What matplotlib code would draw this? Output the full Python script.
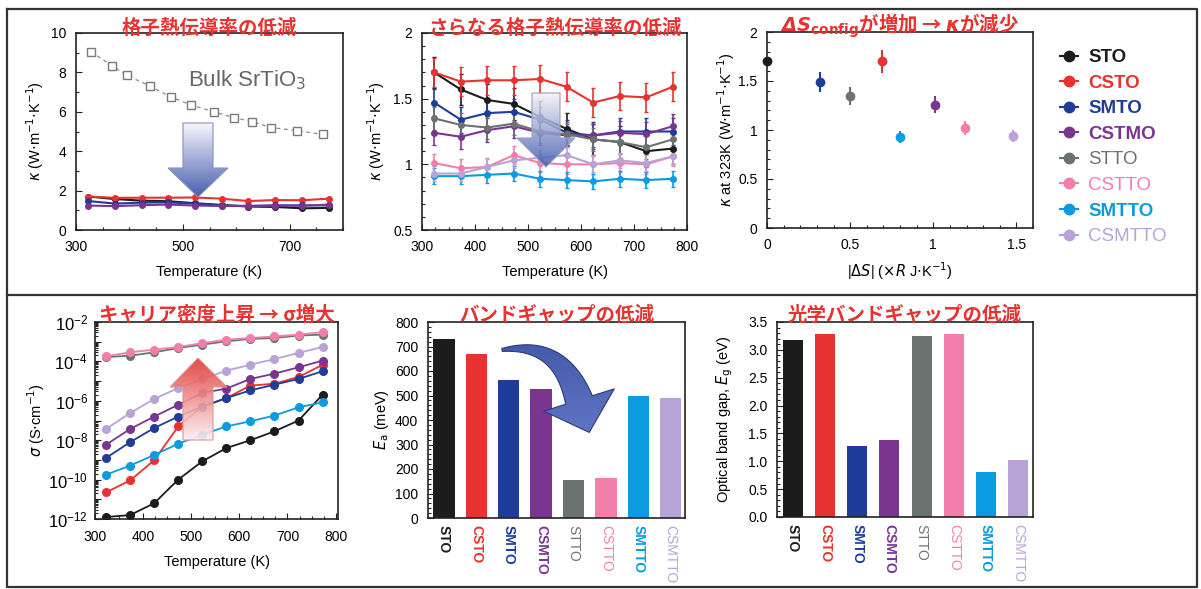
import numpy as np
import matplotlib
matplotlib.use('Agg')
import matplotlib.pyplot as plt
from matplotlib.patches import Polygon
from matplotlib.colors import LinearSegmentedColormap
from matplotlib.lines import Line2D
from matplotlib.ticker import MultipleLocator, FixedLocator, FuncFormatter, LogLocator, NullFormatter

plt.rcParams['font.family'] = ['Liberation Sans', 'DejaVu Sans']
plt.rcParams['mathtext.fontset'] = 'dejavusans'

W, H = 1201, 589
JP = ['Noto Sans CJK JP', 'DejaVu Sans']
RED = '#e8322f'

# --- データ ---
names = ['STO', 'CSTO', 'SMTO', 'CSTMO', 'STTO', 'CSTTO', 'SMTTO', 'CSMTTO']
bar_names = ['STO', 'CSTO', 'SMTO', 'CSMTO', 'STTO', 'CSTTO', 'SMTTO', 'CSMTTO']
colors = ['#1c1c1c', '#e8322f', '#1f3c99', '#7b3590', '#6b7370', '#f27fab', '#0a9be0', '#b7a3d8']
bold = [True, True, True, True, False, False, True, False]

temps = [323, 373, 423, 473, 523, 573, 623, 673, 723, 773]

bulk_T = [328, 367, 395, 439, 478, 515, 558, 596, 630, 665, 714, 762]
bulk_kappa = [9.05, 8.35, 7.85, 7.3, 6.75, 6.35, 6.0, 5.7, 5.5, 5.2, 5.05, 4.85]

kappa_sto = [1.70, 1.57, 1.49, 1.46, 1.36, 1.27, 1.19, 1.17, 1.10, 1.12]
kappa_csto = [1.70, 1.63, 1.64, 1.64, 1.65, 1.59, 1.47, 1.52, 1.51, 1.59]
kappa_smto = [1.47, 1.34, 1.39, 1.40, 1.34, 1.24, 1.22, 1.25, 1.25, 1.25]
kappa_cstmo = [1.24, 1.21, 1.26, 1.29, 1.24, 1.22, 1.22, 1.24, 1.23, 1.29]
kappa_stto = [1.35, 1.30, 1.28, 1.31, 1.25, 1.23, 1.19, 1.17, 1.13, 1.19]
kappa_cstto = [1.01, 0.97, 0.98, 1.07, 1.01, 1.00, 1.00, 1.01, 1.00, 1.06]
kappa_smtto = [0.91, 0.91, 0.92, 0.93, 0.89, 0.88, 0.87, 0.89, 0.88, 0.89]
kappa_csmtto = [0.93, 0.93, 0.98, 1.03, 1.05, 1.07, 1.00, 1.03, 1.01, 1.06]
kappa_err = [0.12, 0.11, 0.10, 0.09, 0.09, 0.07, 0.06, 0.06]

delta_s = [0.0, 0.69, 0.32, 1.01, 0.50, 1.19, 0.80, 1.48]
kappa_323 = [1.70, 1.70, 1.49, 1.26, 1.35, 1.02, 0.93, 0.94]
kappa_323_err = [0.0, 0.12, 0.10, 0.09, 0.09, 0.07, 0.06, 0.06]

logsig_sto = [-11.9, -11.8, -11.2, -10.0, -9.07, -8.40, -8.0, -7.55, -7.0, -5.69]
logsig_csto = [-10.65, -10.04, -9.02, -7.3, -6.3, -5.86, -5.23, -5.13, -4.79, -4.17]
logsig_smto = [-8.9, -8.1, -7.38, -6.8, -6.3, -5.86, -5.47, -5.18, -4.89, -4.5]
logsig_cstmo = [-8.23, -7.43, -6.8, -6.2, -5.6, -5.38, -4.89, -4.62, -4.3, -3.96]
logsig_stto = [-3.78, -3.71, -3.54, -3.32, -3.15, -2.98, -2.86, -2.81, -2.69, -2.64]
logsig_cstto = [-3.74, -3.54, -3.40, -3.27, -3.07, -2.90, -2.81, -2.73, -2.64, -2.52]
logsig_smtto = [-9.75, -9.29, -8.75, -8.18, -7.72, -7.3, -7.04, -6.75, -6.33, -6.08]
logsig_csmtto = [-7.43, -6.62, -5.91, -5.35, -4.9, -4.47, -4.17, -3.88, -3.57, -3.27]

ea_mev = [730, 670, 563, 528, 156, 162, 497, 490]
eg_ev = [3.17, 3.29, 1.28, 1.39, 3.25, 3.29, 0.81, 1.02]

kappa_all = [kappa_sto, kappa_csto, kappa_smto, kappa_cstmo,
             kappa_stto, kappa_cstto, kappa_smtto, kappa_csmtto]
logsig_all = [logsig_sto, logsig_csto, logsig_smto, logsig_cstmo,
              logsig_stto, logsig_cstto, logsig_smtto, logsig_csmtto]


def rect(l, t, r, b):
    return [l / W, 1 - b / H, (r - l) / W, (b - t) / H]


def style(ax):
    for s in ax.spines.values():
        s.set_linewidth(1.2)
        s.set_color('#222222')
    ax.tick_params(which='both', direction='in', labelsize=10, width=0.8, color='#222222', pad=7)
    ax.tick_params(which='major', length=4)
    ax.tick_params(which='minor', length=2)


def title(ax, txt, dy):
    ax.text(0.5, 1 + dy, txt, transform=ax.transAxes, ha='center', va='center',
            color=RED, fontsize=14, fontweight='bold', family=JP, zorder=20)


fig = plt.figure(figsize=(W / 100, H / 100), dpi=100)
fig.patch.set_facecolor('white')

g = FuncFormatter(lambda v, p: '%g' % v)
kappa_label = r'$\kappa$ (W$\cdot$m$^{-1}$$\cdot$K$^{-1}$)'

# --- 1: 格子熱伝導率 ---
ax1 = fig.add_axes(rect(76, 33, 343, 230))
ax1.plot(bulk_T, bulk_kappa, ls=(0, (3, 3)), color='#8a8a8a', lw=0.9,
         marker='s', mfc='white', mec='#7a7a7a', ms=5.5)
for i in range(4):
    ax1.plot(temps, kappa_all[i], '-o', color=colors[i], ms=4, lw=1.5)
ax1.set_xlim(300, 800)
ax1.set_ylim(0, 10)
ax1.set_xticks([300, 500, 700])
ax1.xaxis.set_minor_locator(MultipleLocator(50))
ax1.yaxis.set_minor_locator(MultipleLocator(1))
ax1.text(0.64, 0.76, 'Bulk SrTiO$_3$', transform=ax1.transAxes, ha='center', va='center',
         fontsize=16, color='#666666')
ax1.set_xlabel('Temperature (K)', fontsize=10.5)
ax1.set_ylabel(kappa_label, fontsize=10.5)
ax1.yaxis.set_label_coords(-0.113, 0.5)
ax1.xaxis.set_label_coords(0.5, -0.178)
style(ax1)
title(ax1, '格子熱伝導率の低減', 0.025)

# --- 2: さらなる低減 ---
ax2 = fig.add_axes(rect(422, 33, 687, 230))
for i in range(8):
    ax2.errorbar(temps, kappa_all[i], yerr=kappa_err[i], fmt='-o', color=colors[i],
                 ms=4, lw=1.5, elinewidth=1.2, capsize=1.5, zorder=3 + (i == 1))
ax2.set_xlim(300, 800)
ax2.set_ylim(0.5, 2)
ax2.xaxis.set_major_locator(MultipleLocator(100))
ax2.xaxis.set_minor_locator(MultipleLocator(25))
ax2.yaxis.set_major_locator(MultipleLocator(0.5))
ax2.yaxis.set_minor_locator(MultipleLocator(0.1))
ax2.yaxis.set_major_formatter(g)
ax2.set_xlabel('Temperature (K)', fontsize=10.5)
ax2.set_ylabel(kappa_label, fontsize=10.5)
ax2.yaxis.set_label_coords(-0.132, 0.5)
ax2.xaxis.set_label_coords(0.5, -0.178)
style(ax2)
title(ax2, 'さらなる格子熱伝導率の低減', 0.025)

# --- 3: ΔS vs κ ---
ax3 = fig.add_axes(rect(767, 32, 1033, 228))
for i in range(8):
    ax3.errorbar(delta_s[i], kappa_323[i], yerr=kappa_323_err[i], fmt='o', color=colors[i],
                 ms=6, elinewidth=1.5, capsize=0, clip_on=False, zorder=4)
ax3.set_xlim(0, 1.6)
ax3.set_ylim(0, 2)
ax3.xaxis.set_major_locator(MultipleLocator(0.5))
ax3.xaxis.set_minor_locator(MultipleLocator(0.1))
ax3.yaxis.set_major_locator(MultipleLocator(0.5))
ax3.yaxis.set_minor_locator(MultipleLocator(0.1))
ax3.xaxis.set_major_formatter(g)
ax3.yaxis.set_major_formatter(g)
ax3.set_xlabel(r'|$\mathit{\Delta S}$| ($\times\mathit{R}$ J$\cdot$K$^{-1}$)', fontsize=10.5)
ax3.set_ylabel(r'$\kappa$ at 323K (W$\cdot$m$^{-1}$$\cdot$K$^{-1}$)', fontsize=10.5)
ax3.yaxis.set_label_coords(-0.113, 0.5)
ax3.xaxis.set_label_coords(0.5, -0.163)
style(ax3)
title(ax3, r'$\mathbfit{\Delta S}_{\mathbf{config}}$が増加 → $\mathbfit{\kappa}$が減少', 0.03)

handles = [Line2D([], [], color=c, marker='o', ms=7.5, lw=1.5) for c in colors]
leg = ax3.legend(handles, names, loc='upper left', bbox_to_anchor=(1060 / W, 1 - 49 / H),
                 bbox_transform=fig.transFigure, frameon=False, fontsize=13.5,
                 handlelength=0.95, handletextpad=0.55, labelspacing=0.45,
                 borderaxespad=0, borderpad=0)
for t, c, b in zip(leg.get_texts(), colors, bold):
    t.set_color(c)
    t.set_fontweight('bold' if b else 'normal')

# --- 4: 電気伝導率 ---
ax4 = fig.add_axes(rect(95, 322, 338, 519))
order = [0, 1, 2, 3, 6, 7, 4, 5]
for i in order:
    ax4.plot(temps, 10.0 ** np.array(logsig_all[i]), '-o', color=colors[i], ms=5.5, lw=1.3)
ax4.set_yscale('log')
ax4.set_xlim(300, 805)
ax4.set_ylim(1e-12, 1e-2)
ax4.xaxis.set_major_locator(MultipleLocator(100))
ax4.xaxis.set_minor_locator(MultipleLocator(25))
ax4.yaxis.set_major_locator(FixedLocator([10.0 ** e for e in range(-12, -1)]))
ax4.yaxis.set_major_formatter(FuncFormatter(
    lambda v, p: r'$\mathdefault{10^{%d}}$' % round(np.log10(v)) if round(np.log10(v)) % 2 == 0 else ''))
ax4.yaxis.set_minor_locator(LogLocator(base=10, subs=np.arange(2, 10), numticks=30))
ax4.yaxis.set_minor_formatter(NullFormatter())
ax4.set_xlabel('Temperature (K)', fontsize=10.5)
ax4.set_ylabel(r'$\sigma$ (S$\cdot$cm$^{-1}$)', fontsize=10.5)
ax4.yaxis.set_label_coords(-0.197, 0.5)
ax4.xaxis.set_label_coords(0.5, -0.183)
style(ax4)
ax4.tick_params(axis='y', labelsize=12, pad=5)
ax4.tick_params(axis='x', pad=8)
title(ax4, 'キャリア密度上昇 → σ増大', 0.035)


# --- 5, 6: 棒グラフ ---
def bars(ax, vals, width):
    ax.bar(range(8), vals, width=width, color=colors)
    ax.set_xticks(range(8))
    ax.set_xticklabels(bar_names, rotation=-90, fontsize=11.5)
    for t, c, b in zip(ax.get_xticklabels(), colors, bold):
        t.set_color(c)
        t.set_fontweight('bold' if b else 'normal')


ax5 = fig.add_axes(rect(428, 322, 685, 518))
bars(ax5, ea_mev, 0.66)
ax5.set_xlim(-0.49, 7.44)
ax5.set_ylim(0, 800)
ax5.yaxis.set_major_locator(MultipleLocator(100))
ax5.yaxis.set_minor_locator(MultipleLocator(20))
ax5.set_ylabel(r'$E_{\rm a}$ (meV)', fontsize=10.5)
ax5.yaxis.set_label_coords(-0.144, 0.5)
style(ax5)
ax5.tick_params(axis='x', length=0, pad=5)
title(ax5, 'バンドギャップの低減', 0.035)

ax6 = fig.add_axes(rect(777, 322, 1033, 517))
bars(ax6, eg_ev, 0.62)
ax6.set_xlim(-0.49, 7.46)
ax6.set_ylim(0, 3.5)
ax6.yaxis.set_major_locator(MultipleLocator(0.5))
ax6.yaxis.set_minor_locator(MultipleLocator(0.1))
ax6.yaxis.set_major_formatter(FuncFormatter(lambda v, p: '%.1f' % v))
ax6.set_ylabel(r'Optical band gap, $E_{\rm g}$ (eV)', fontsize=10.5)
ax6.yaxis.set_label_coords(-0.164, 0.5)
style(ax6)
ax6.tick_params(axis='x', length=0, pad=5)
title(ax6, '光学バンドギャップの低減', 0.035)

# --- 枠と矢印（ピクセル座標のオーバーレイ） ---
ov = fig.add_axes([0, 0, 1, 1], zorder=10)
ov.patch.set_visible(False)
ov.axis('off')


def grad_arrow(pts, c_top, c_bottom, alpha, edge):
    poly = Polygon(pts, closed=True, facecolor='none', edgecolor=edge, lw=0.8, zorder=3)
    ov.add_patch(poly)
    xs, ys = zip(*pts)
    cmap = LinearSegmentedColormap.from_list('g', [c_top, c_bottom])
    im = ov.imshow(np.linspace(0, 1, 256).reshape(-1, 1), cmap=cmap, aspect='auto',
                   extent=(min(xs), max(xs), max(ys), min(ys)), origin='upper',
                   alpha=alpha, zorder=2)
    im.set_clip_path(poly)


grad_arrow([(183, 123), (213, 123), (213, 168), (228, 168), (198, 197), (168, 168), (183, 168)],
           '#f6f6fb', '#3d56ad', 0.95, '#8a92b8')
grad_arrow([(532, 93), (560, 93), (560, 138), (575, 138), (546, 167), (517, 138), (532, 138)],
           '#f4f4f8', '#3d56ad', 0.85, '#9aa0b8')
grad_arrow([(183, 440), (213, 440), (213, 387), (227, 387), (198, 358), (170, 387), (183, 387)],
           '#e0362f', '#fdf0f4', 0.9, '#d89a9a')

# 曲がった矢印
p0 = np.array([502.0, 350.0])
p1 = np.array([560.0, 340.0])
p2 = np.array([579.0, 400.0])
s = np.linspace(0, 1, 40)[:, None]
centre = (1 - s) ** 2 * p0 + 2 * (1 - s) * s * p1 + s ** 2 * p2
tang = 2 * (1 - s) * (p1 - p0) + 2 * s * (p2 - p1)
tang = tang / np.linalg.norm(tang, axis=1, keepdims=True)
norm = np.column_stack([-tang[:, 1], tang[:, 0]])
half = 1.5 + 12.5 * s
upper = centre - norm * half
lower = centre + norm * half
d = tang[-1]
n = norm[-1]
head = [p2 - n * 37, p2 + d * 34, p2 + n * 37]
outline = np.vstack([upper, [head[0]], [head[1]], [head[2]], lower[::-1]])
curve = Polygon(outline, closed=True, facecolor='none', edgecolor='#2c3a7a', lw=0.8, zorder=3)
ov.add_patch(curve)
cm = LinearSegmentedColormap.from_list('b', ['#3f55a8', '#5a6fc0'])
im = ov.imshow(np.linspace(0, 1, 256).reshape(-1, 1), cmap=cm, aspect='auto',
               extent=(outline[:, 0].min(), outline[:, 0].max(),
                       outline[:, 1].max(), outline[:, 1].min()),
               origin='upper', alpha=0.97, zorder=2)
im.set_clip_path(curve)

ov.plot([7, 1197, 1197, 7, 7], [9, 9, 587, 587, 9], color='#333333', lw=1.6)
ov.plot([7, 1197], [295, 295], color='#333333', lw=1.6)
ov.set_xlim(0, W)
ov.set_ylim(H, 0)

fig.savefig('out.png', dpi=100)
